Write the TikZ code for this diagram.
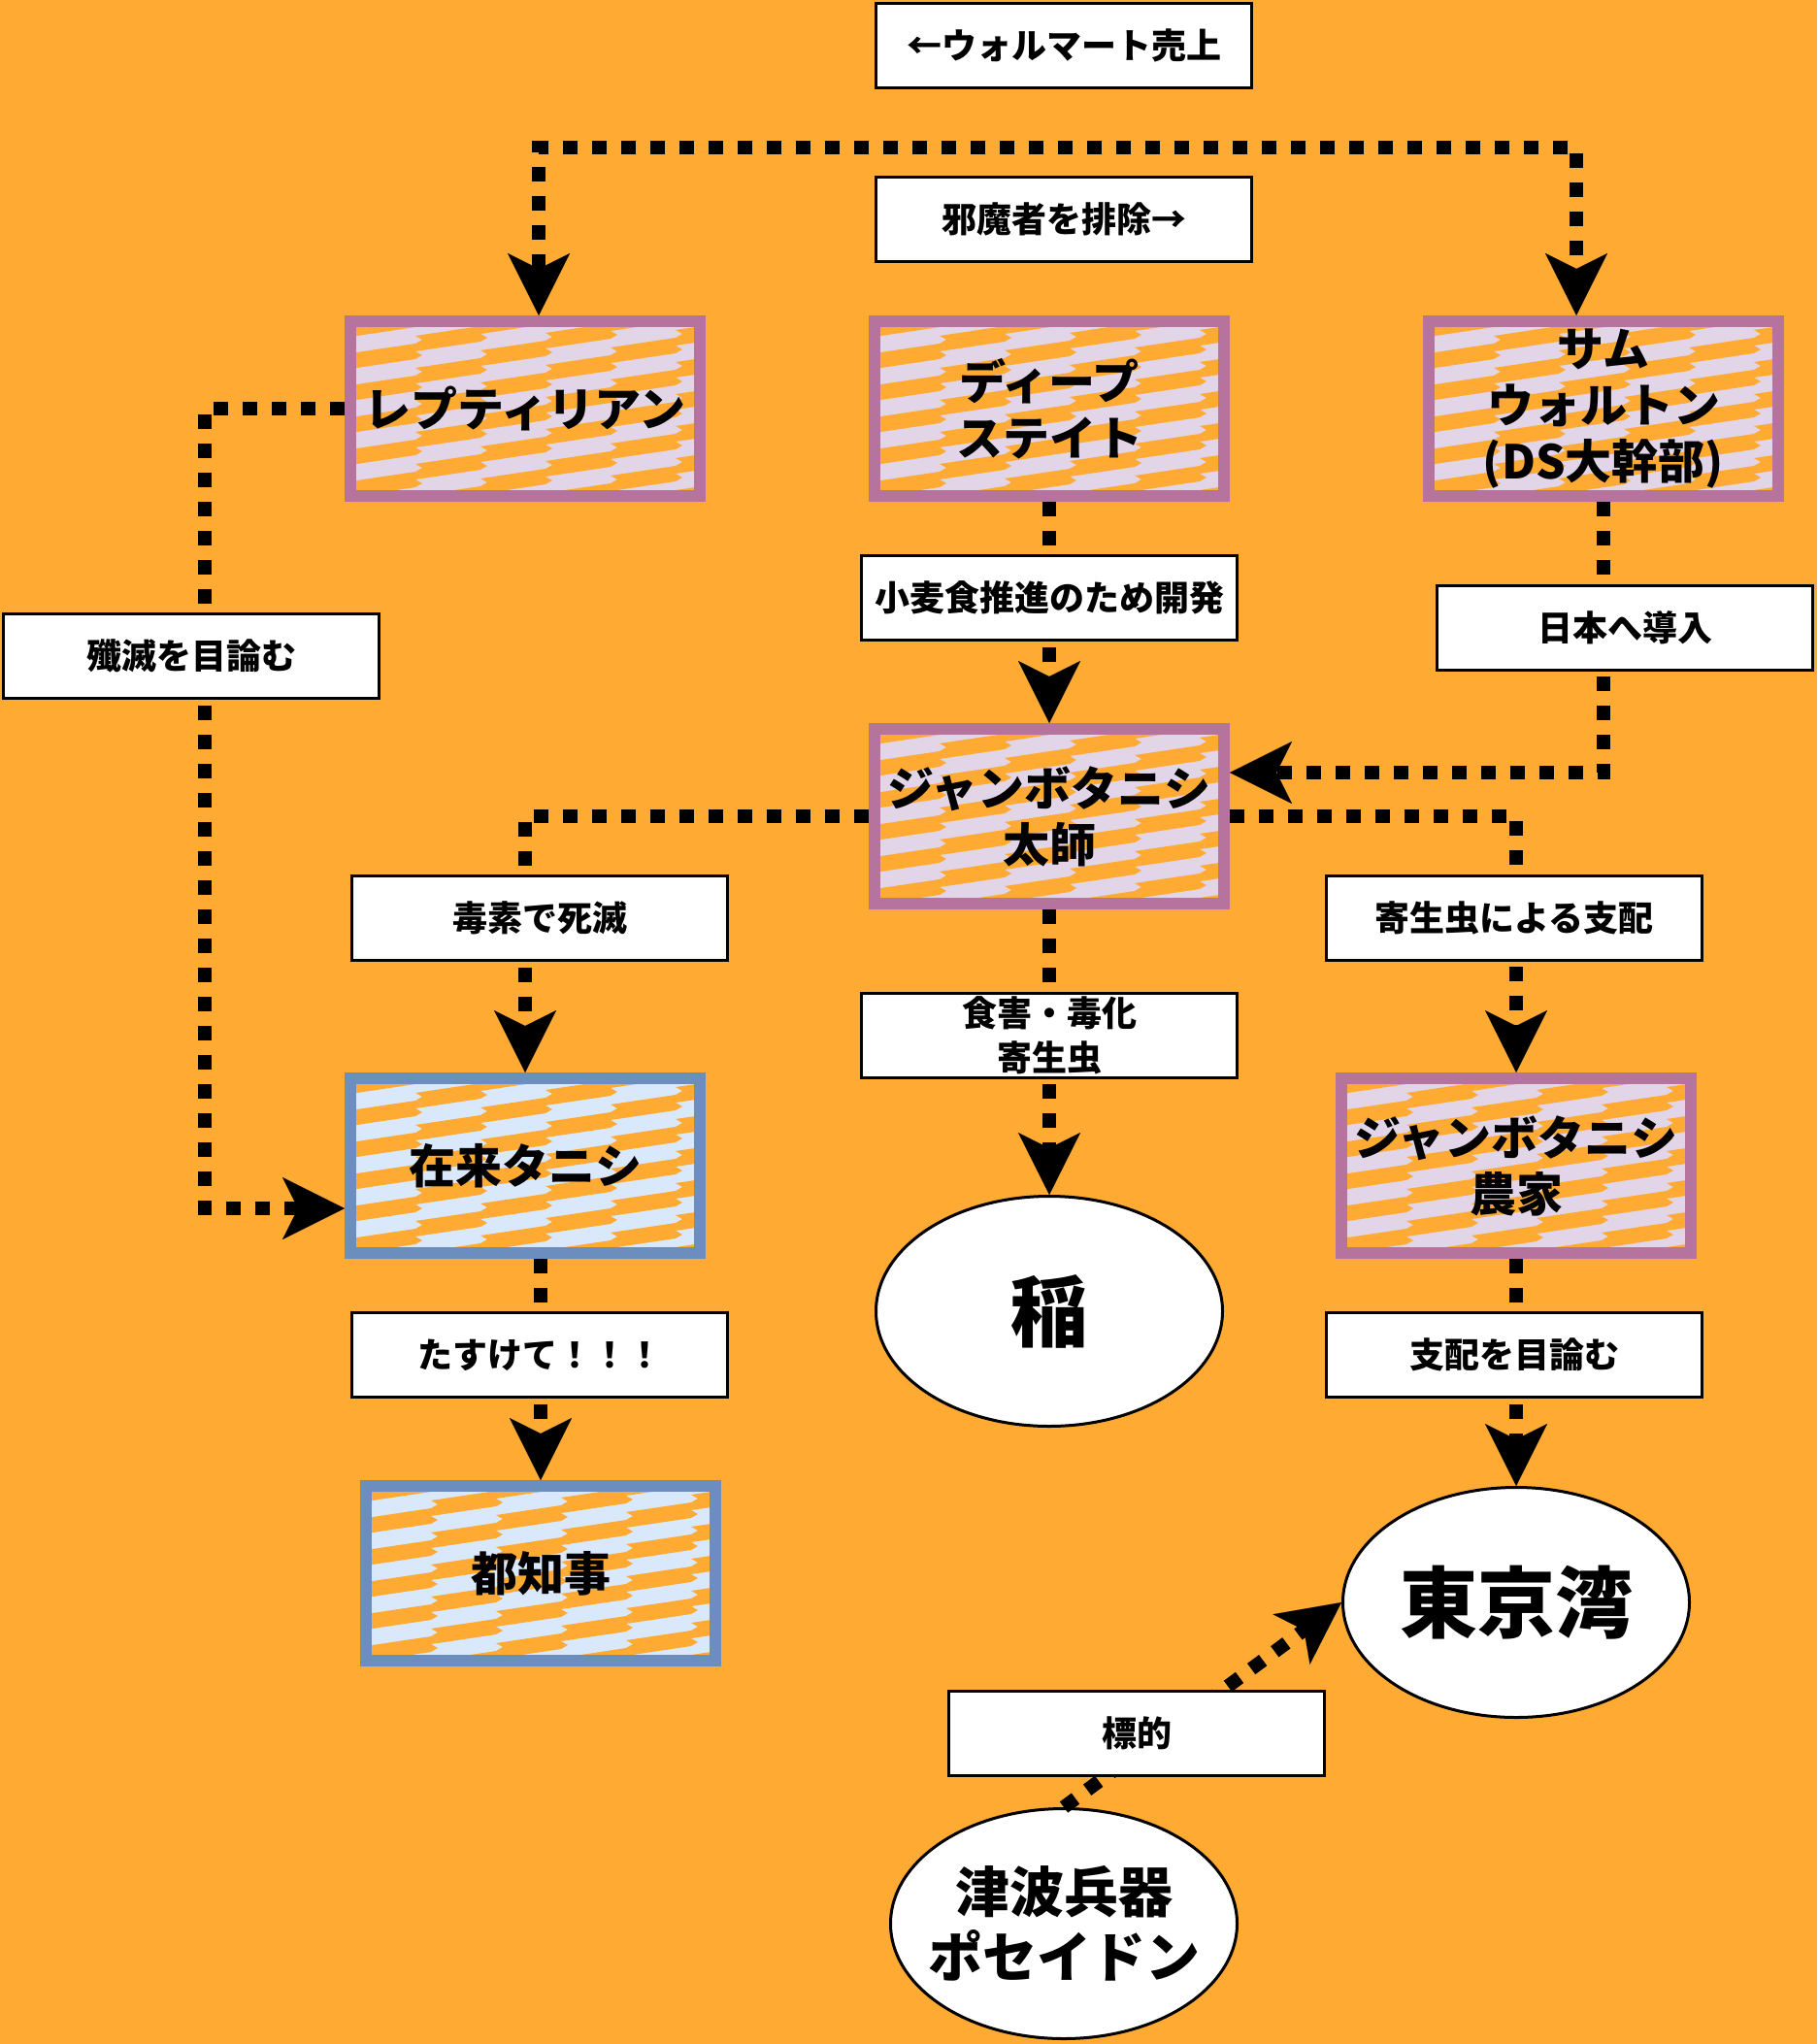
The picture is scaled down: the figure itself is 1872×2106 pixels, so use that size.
\documentclass[tikz,border=0pt]{standalone}
\usepackage{fontspec}
\setmainfont{Noto Sans CJK JP}
\usetikzlibrary{arrows.meta,shapes.geometric}
\definecolor{bgor}{HTML}{FFAA33}
\definecolor{lav}{HTML}{E1D5E7}
\definecolor{purB}{HTML}{B5739D}
\definecolor{lblue}{HTML}{DAE8FC}
\definecolor{bluB}{HTML}{6C8EBF}
\newcommand{\zigpat}[5]{%
  \begin{scope}
    \clip (#1,#2) rectangle (#3,#4);
    \fill[#5] (#1,#2) rectangle (#3,#4);
    \foreach \i in {0,...,6}{
      \foreach \j in {-2,...,11}{
        \fill[bgor, shift={(#1+\i*67, #2+\j*33-\i*18)}]
          (0,0) -- (67,-10) -- (74,-6) -- (67,-2) -- (74,2) -- (67,6)
          -- (0,16) -- (7,12) -- (0,8) -- (7,4) -- cycle;
      }
    }
  \end{scope}}
\tikzset{
  conn/.style={line width=14pt, dash pattern=on 15pt off 15pt},
  tip/.tip={Stealth[length=64pt,width=64pt,inset=16pt,line width=0.01pt]},
  patbox/.style={draw=#1, line width=12pt, minimum width=360pt, minimum height=180pt,
    inner sep=0pt, align=center, font=\fontsize{48}{58}\selectfont\bfseries},
  lbl/.style={draw=black, fill=white, line width=3pt, minimum width=387pt, minimum height=87pt,
    inner sep=0pt, align=center, font=\fontsize{36}{46}\selectfont\bfseries},
  ell/.style={ellipse, draw=black, fill=white, line width=3pt, minimum width=357pt,
    minimum height=237pt, inner sep=-25pt, align=center},
}
\begin{document}
\begin{tikzpicture}[x=1pt,y=-1pt]
\fill[bgor] (0,0) rectangle (1872,2106);
\useasboundingbox (0,0) rectangle (1872,2106);

% pattern fills
\zigpat{361}{331}{721}{511}{lav}
\zigpat{901}{331}{1261}{511}{lav}
\zigpat{1472}{331}{1832}{511}{lav}
\zigpat{901}{751}{1261}{931}{lav}
\zigpat{361}{1111}{721}{1291}{lblue}
\zigpat{1382}{1111}{1742}{1291}{lav}
\zigpat{377}{1531}{737}{1711}{lblue}

% patterned nodes
\node[patbox=purB] (rep) at (541,421) {レプティリアン};
\node[patbox=purB] (deep) at (1081,421) {ディープ\\ステイト};
\node[patbox=purB] (sam) at (1652,421) {サム\\ウォルトン\\(DS大幹部)};
\node[patbox=purB] (taishi) at (1081,841) {ジャンボタニシ\\太師};
\node[patbox=bluB] (zairai) at (541,1201) {在来タニシ};
\node[patbox=purB] (nouka) at (1562,1201) {ジャンボタニシ\\農家};
\node[patbox=bluB] (chiji) at (557,1621) {都知事};

% ellipses
\node[ell, font=\fontsize{80}{90}\selectfont\bfseries] (ine) at (1081,1351) {稲};
\node[ell, font=\fontsize{80}{90}\selectfont\bfseries] (tokyo) at (1562,1651) {東京湾};
\node[ell, font=\fontsize{56}{67}\selectfont\bfseries] (posei) at (1096,1982) {津波兵器\\ポセイドン};

% connectors
\draw[conn, tip-tip] ([xshift=14pt]rep.north) -- ++(0,-173) -| ([xshift=-28pt]sam.north);
\draw[conn, -tip] (rep.west) -- ++(-144,0) |- ([yshift=-44pt]zairai.west);
\draw[conn, -tip] (deep.south) -- (taishi.north);
\draw[conn, -tip] (sam.south) |- ([yshift=45pt]taishi.east);
\draw[conn, -tip] (taishi.west) -| (zairai.north);
\draw[conn, -tip] (taishi.east) -| (nouka.north);
\draw[conn, -tip] (taishi.south) -- (ine.north);
\draw[conn, -tip] (zairai.south -| chiji.north) -- (chiji.north);
\draw[conn, -tip] (nouka.south) -- (tokyo.north);
\draw[conn, -tip] (posei.north) -- (tokyo.west);

% labels
\node[lbl] (l1) at (1096,47) {←ウォルマート売上};
\node[lbl] (l2) at (1096,226) {邪魔者を排除→};
\node[lbl] (l3) at (197,676) {殲滅を目論む};
\node[lbl] (l4) at (1081,616) {小麦食推進のため開発};
\node[lbl] (l5) at (1674,647) {日本へ導入};
\node[lbl] (l6) at (556,946) {毒素で死滅};
\node[lbl] (l7) at (1560,946) {寄生虫による支配};
\node[lbl] (l8) at (1081,1067) {食害・毒化\\寄生虫};
\node[lbl] (l9) at (556,1396) {たすけて！！！};
\node[lbl] (l10) at (1560,1396) {支配を目論む};
\node[lbl] (l11) at (1171,1786) {標的};
\end{tikzpicture}
\end{document}
